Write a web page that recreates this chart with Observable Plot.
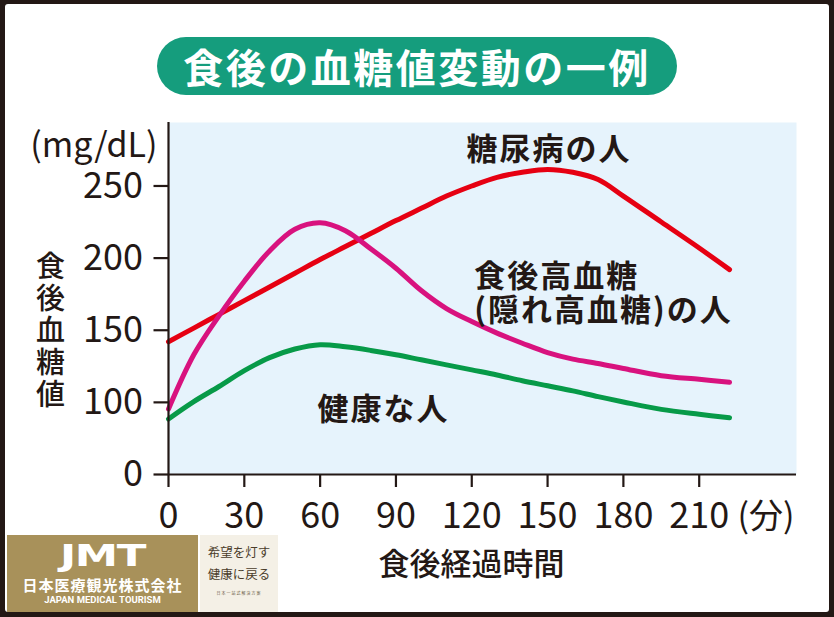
<!DOCTYPE html>
<html>
<head>
<meta charset="utf-8">
<script src="https://cdn.jsdelivr.net/npm/d3@7"></script>
<script src="https://cdn.jsdelivr.net/npm/@observablehq/plot@0.6"></script>
<style>
  html, body { margin: 0; padding: 0; }
  body { width: 834px; height: 617px; background: #231815; position: relative; overflow: hidden;
         font-family: "Noto Sans CJK JP", "Noto Sans", sans-serif; }
  #paper { position: absolute; left: 5px; top: 4px; width: 824px; height: 608px; background: #ffffff; border-radius: 3px; }
  #chart { position: absolute; left: 0; top: 0; }
  #chart g[aria-description="series-labels"] text { letter-spacing: 2px; }
  #title { position: absolute; left: 157px; top: 37px; width: 520px; height: 58px; border-radius: 29px;
           background: #159d7d; color: #fff; font-weight: 700; font-size: 40px; line-height: 58px;
           text-align: center; letter-spacing: 2.5px; }
  #logo { position: absolute; left: 7px; top: 535px; width: 191px; height: 77px; background: #a8915a; color: #fff; text-align: center; }
  #logo .jmt { font-family: "DejaVu Sans", sans-serif; font-weight: 700; font-size: 30px; line-height: 30px; margin-top: 6px; letter-spacing: -1px; transform: scaleX(1.45); }
  #logo .jp { font-size: 15px; font-weight: 700; line-height: 18px; margin-top: 5px; letter-spacing: 1px; }
  #logo .en { font-family: "Roboto", sans-serif; font-size: 9.5px; font-weight: 700; line-height: 11px; }
  #slogan { position: absolute; left: 200px; top: 535px; width: 78px; height: 77px; background: #f4f0e6; color: #4a3c2a; text-align: center; }
  #slogan .s { font-size: 12.5px; line-height: 22px; }
  #slogan .s1 { margin-top: 6px; }
  #slogan .t { font-size: 4px; line-height: 8px; margin-top: 4px; color: #6a5a45; letter-spacing: 1px; }
</style>
</head>
<body>
<div id="paper"></div>
<div id="chart"></div>
<div id="title">食後の血糖値変動の一例</div>
<div id="logo"><div class="jmt">JMT</div><div class="jp">日本医療観光株式会社</div><div class="en">JAPAN MEDICAL TOURISM</div></div>
<div id="slogan"><div class="s s1">希望を灯す</div><div class="s">健康に戻る</div><div class="t">日本一站式解決方案</div></div>
<script>
// ---- data (minutes after meal, blood glucose mg/dL) ----
const minutes = [0, 10, 20, 30, 40, 50, 60, 70, 80, 90, 100, 110, 120, 130, 140, 150, 160, 170, 180, 195, 210, 222];
const diabetes = [142, 151.5, 161, 170.5, 180, 189.5, 199, 208, 217, 226, 234.5, 243, 250, 256, 259.5, 261.5, 259.5, 254.5, 243, 225, 207, 192];
const hiddenHigh = [90.9, 133, 160, 184, 205, 220, 224.5, 219, 206.5, 193, 177.5, 165, 156, 148, 141, 134.5, 130, 127, 123.5, 118.5, 116, 114];
const healthy = [77, 100.5, 111, 122, 131, 137, 140, 138.5, 136, 133, 129.5, 126, 122.5, 119, 115, 111.5, 108, 104, 100.3, 90.3, 83.5, 78.7];

const seriesNames = ["糖尿病の人", "食後高血糖(隠れ高血糖)の人", "健康な人"];
const seriesColors = ["#e60012", "#d8127e", "#079a48"];

const xTicks = [0, 30, 60, 90, 120, 150, 180, 210];
const yTicks = [0, 100, 150, 200, 250];

const labelTexts = ["糖尿病の人", "食後高血糖\n(隠れ高血糖)の人", "健康な人"];
const labelMinutes = [117.9, 121, 59];
const labelValues = [275.7, 175.9, 90.6];

const xUnit = "(分)";
const yUnit = "(mg/dL)";
const xTitle = "食後経過時間";
const yTitle = "食後血糖値";

// The value axis is broken between 0 and 100 (that span is drawn at half scale)
const breakAt = 100;
const warp = v => v < breakAt ? v / 2 : v - breakAt / 2;
const unwarp = w => w < breakAt / 2 ? w * 2 : w + breakAt / 2;

// ---- build table ----
const allSeries = [diabetes, hiddenHigh, healthy];
const rows = allSeries.flatMap((vals, i) => vals.map((v, j) => ({series: seriesNames[i], t: minutes[j], v})));
const labels = labelTexts.map((text, i) => ({text, t: labelMinutes[i], v: labelValues[i]}));

const ink = "#231815";
const font = "'Noto Sans CJK JP', 'Noto Sans', sans-serif";

const chart = Plot.plot({
  width: 834,
  height: 617,
  marginLeft: 168,
  marginRight: 38,
  marginTop: 122,
  marginBottom: 143,
  style: {background: "transparent", fontFamily: font, overflow: "visible", color: ink},
  x: {domain: [0, 248.5]},
  y: {domain: [0, warp(294)]},
  color: {domain: seriesNames, range: seriesColors},
  marks: [
    Plot.frame({fill: "#e6f3fc", stroke: null}),
    Plot.line(rows, {x: "t", y: d => warp(d.v), z: "series", stroke: "series", strokeWidth: 5, curve: "catmull-rom", strokeLinecap: "round"}),
    Plot.ruleY([0], {stroke: ink, strokeWidth: 2.2}),
    Plot.ruleX([0], {stroke: ink, strokeWidth: 2.2}),
    Plot.axisY({ticks: yTicks.map(warp), tickSize: 14.5, tickPadding: 11, fontSize: 36, stroke: ink, strokeWidth: 2.2, fill: ink, label: null, tickFormat: d => String(Math.round(unwarp(d)))}),
    Plot.axisX({ticks: xTicks, tickSize: 13, tickPadding: 15, fontSize: 36, stroke: ink, strokeWidth: 2.2, fill: ink, label: null, tickFormat: d => String(d)}),
    Plot.text([xUnit], {frameAnchor: "bottom-right", textAnchor: "end", lineAnchor: "middle", dx: -2, dy: 43, fontSize: 34, fill: ink}),
    Plot.text([yUnit], {frameAnchor: "top-left", textAnchor: "end", lineAnchor: "middle", dx: -11, dy: 24, fontSize: 34, fill: ink}),
    Plot.text([xTitle], {frameAnchor: "bottom", textAnchor: "middle", lineAnchor: "middle", dx: -11, dy: 91, fontSize: 31, fontWeight: 500, fill: ink}),
    Plot.text([yTitle.split("").join("\n")], {frameAnchor: "left", textAnchor: "middle", lineAnchor: "middle", dx: -118, dy: 32, fontSize: 29, lineHeight: 1.1, fontWeight: 500, fill: ink}),
    Plot.text(labels, {x: "t", y: d => warp(d.v), text: "text", textAnchor: "start", lineAnchor: "middle", fontSize: 31, fontWeight: 700, lineHeight: 1.1, fill: ink, ariaDescription: "series-labels"})
  ]
});
d3.select(chart).selectAll('g[aria-description="series-labels"] text').attr("letter-spacing", 2);
document.getElementById("chart").appendChild(chart);
</script>
</body>
</html>
